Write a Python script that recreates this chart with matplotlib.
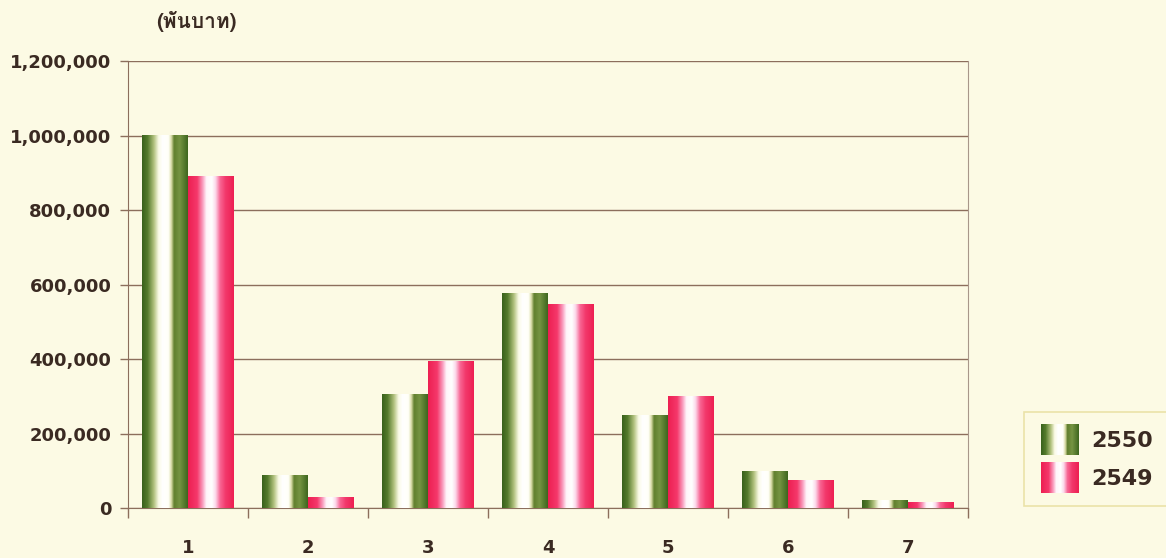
import numpy as np
import matplotlib
matplotlib.use("Agg")
import matplotlib.pyplot as plt
from matplotlib import font_manager
from matplotlib.ft2font import FT2Font
from matplotlib.legend_handler import HandlerBase
from matplotlib.image import BboxImage
from matplotlib.transforms import Bbox, TransformedBbox
from matplotlib.patches import Patch

categories = ["1", "2", "3", "4", "5", "6", "7"]
series_names = ["2550", "2549"]
values_2550 = [1000000, 88000, 305000, 576000, 248000, 97000, 19000]
values_2549 = [890000, 28000, 392000, 545000, 298000, 75000, 16000]
yticks = [0, 200000, 400000, 600000, 800000, 1000000, 1200000]
ylabel_text = "(พันบาท)"

# find a font with Thai glyphs
thai_font = None
for f in font_manager.fontManager.ttflist:
    try:
        ft = FT2Font(f.fname)
        if ft.get_char_index(ord("พ")) and ft.get_char_index(ord("บ")):
            thai_font = f.name
            break
    except Exception:
        pass
thai_family = [thai_font, "DejaVu Sans"] if thai_font else ["DejaVu Sans"]

BG = "#fcfae4"
TXT = "#3a2a22"
GRID = "#8c6e5c"

green_stops = [(0.0, (0.22, 0.38, 0.11)), (0.12, (0.33, 0.48, 0.17)),
               (0.26, (0.70, 0.76, 0.50)), (0.36, (0.98, 0.98, 0.90)),
               (0.45, (1, 1, 1)), (0.58, (1, 1, 0.97)), (0.64, (0.85, 0.86, 0.65)),
               (0.70, (0.38, 0.50, 0.18)), (0.82, (0.46, 0.58, 0.26)),
               (1.0, (0.24, 0.40, 0.12))]
pink_stops = [(0.0, (0.93, 0.12, 0.32)), (0.20, (0.96, 0.22, 0.42)),
              (0.32, (0.98, 0.62, 0.75)), (0.40, (1, 0.96, 0.98)),
              (0.52, (1, 1, 1)), (0.60, (0.99, 0.85, 0.92)),
              (0.70, (0.97, 0.40, 0.58)), (0.82, (0.95, 0.22, 0.42)),
              (1.0, (0.93, 0.12, 0.32))]


def gradient(stops, n=200):
    t = np.linspace(0, 1, n)
    ts = [s[0] for s in stops]
    cols = np.array([s[1] for s in stops])
    img = np.stack([np.interp(t, ts, cols[:, k]) for k in range(3)], axis=-1)
    return img[np.newaxis, :, :]


grad_imgs = [gradient(green_stops), gradient(pink_stops)]

fig = plt.figure(figsize=(11.66, 5.58), dpi=100, facecolor=BG)
ax = fig.add_axes([128 / 1166, 1 - 508 / 558, 840 / 1166, 447 / 558])
ax.set_facecolor(BG)

x = np.arange(len(categories))
w = 0.383
for si, vals in enumerate([values_2550, values_2549]):
    offs = -w / 2 if si == 0 else w / 2
    bars = ax.bar(x + offs, vals, width=w, color="none", edgecolor="none", zorder=3)
    for b in bars:
        x0, y0 = b.get_x(), b.get_y()
        ax.imshow(grad_imgs[si], extent=(x0, x0 + b.get_width(), y0, y0 + b.get_height()),
                  aspect="auto", interpolation="bilinear", zorder=3)

ax.set_xlim(-0.5, len(categories) - 0.5)
ax.set_ylim(0, 1200000)
ax.set_aspect("auto")

ax.set_yticks(yticks)
ax.set_yticklabels([f"{v:,}" for v in yticks])
ax.yaxis.grid(True, color=GRID, linewidth=1.0, zorder=1)
ax.set_axisbelow(True)
ax.set_xticks(x)
ax.set_xticklabels(categories)
ax.set_xticks(np.arange(len(categories) + 1) - 0.5, minor=True)
ax.tick_params(axis="x", which="major", length=0, pad=22, labelsize=13, labelcolor=TXT)
ax.tick_params(axis="x", which="minor", length=7, width=1, color=GRID, direction="out")
ax.tick_params(axis="y", length=6, width=1, color=GRID, pad=6, labelsize=13, labelcolor=TXT)
for lab in ax.get_xticklabels() + ax.get_yticklabels():
    lab.set_fontweight("bold")

ax.spines["top"].set_visible(False)
ax.spines["left"].set_color(GRID)
ax.spines["bottom"].set_color(GRID)
ax.spines["right"].set_color("#a8978a")
ax.spines["right"].set_linewidth(0.8)

fig.text(196 / 1166, 1 - 22 / 558, ylabel_text, ha="center", va="center",
         fontsize=15, fontweight="bold", color=TXT, family=thai_family)


class GradHandler(HandlerBase):
    def __init__(self, img):
        super().__init__()
        self.img = img

    def create_artists(self, legend, orig_handle, xdescent, ydescent, width, height, fontsize, trans):
        bb = Bbox.from_bounds(-xdescent, -ydescent - 4, width, height + 8)
        tbb = TransformedBbox(bb, trans)
        im = BboxImage(tbb, interpolation="bilinear")
        im.set_data(self.img)
        return [im]


h1 = Patch(label=series_names[0])
h2 = Patch(label=series_names[1])
leg = fig.legend([h1, h2], series_names, loc="center",
                 bbox_to_anchor=(1097 / 1166, 1 - 459 / 558),
                 handler_map={h1: GradHandler(grad_imgs[0]), h2: GradHandler(grad_imgs[1])},
                 prop={"size": 16, "weight": "bold"}, frameon=True, fancybox=False,
                 handlelength=1.7, handleheight=1.0, handletextpad=0.6, labelspacing=0.75,
                 borderpad=0.75, borderaxespad=0)
leg.get_frame().set_facecolor(BG)
leg.get_frame().set_edgecolor("#e6dc9a")
leg.get_frame().set_linewidth(1.2)
for t in leg.get_texts():
    t.set_color(TXT)

fig.savefig("out.png", dpi=100, facecolor=BG)
